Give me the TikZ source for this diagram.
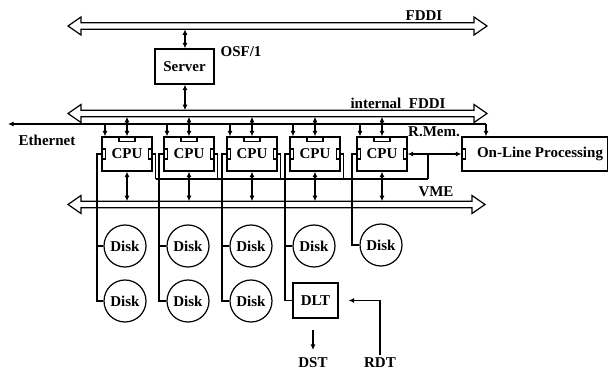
\documentclass[tikz,border=0pt]{standalone}
\usepackage{fontspec}
\setmainfont{Liberation Serif}
\usetikzlibrary{arrows.meta,calc}
\newcommand\mybus[3]{%
  \draw[bus] (#1,#3) -- (#1+13,#3-9) -- (#1+13,#3-3.3) -- (#2-13,#3-3.3) -- (#2-13,#3-9) -- (#2,#3)
    -- (#2-13,#3+9) -- (#2-13,#3+3.3) -- (#1+13,#3+3.3) -- (#1+13,#3+9) -- cycle;}
\begin{document}
\begin{tikzpicture}[x=1pt,y=-1pt,line width=1.2pt,
  lbl/.style={font=\bfseries\fontsize{15}{17}\selectfont,inner sep=0pt},
  box/.style={draw,line width=1.2pt,inner sep=0pt,lbl},
  cpubox/.style={box,minimum width=50pt,minimum height=34pt},
  disk/.style={box,circle,minimum size=42pt},
  tip/.style={-{Latex[length=5.5pt,width=5pt]}},
  dtip/.style={{Latex[length=5.5pt,width=5pt]}-{Latex[length=5.5pt,width=5pt]}},
  bus/.style={line width=1.2pt,line join=miter}]
\useasboundingbox (0,0) rectangle (608,371);
% buses
\mybus{68}{487}{26}
\mybus{68}{487}{113.5}
\mybus{68}{485}{204.5}
\node[lbl] (fddi) at (424,16) {FDDI};
\node[lbl] (ifddi) at (398,103) {internal\ \ FDDI};
\node[lbl] (vme) at (436,192) {VME};
% server
\node[box,minimum width=59pt,minimum height=35pt] (server) at (184.5,66.5) {Server};
\node[lbl] (osf) at (241,52) {OSF/1};
\coordinate (fddiS) at (185,29.3);
\coordinate (ifddiS) at (185,110.2);
\draw[dtip] (fddiS) -- (fddiS |- server.north);
\draw[dtip] (ifddiS |- server.south) -- (ifddiS);
% ethernet
\node[lbl] (eth) at (47,140) {Ethernet};
\coordinate (ethL) at (8,124);
\coordinate (ethR) at (486,124);
\draw[tip] (ethR) -- (ethL);
% on-line processing
\node[box,minimum width=146pt,minimum height=34pt] (olp) at (535,154) {\hspace*{10pt}On-Line Processing};
\draw ($(olp.west)+(0,-5)$) rectangle ++(4,10);
\draw[tip] (ethR) -- (ethR |- olp.north);
\node[lbl] (rmem) at (434,132) {R.Mem.};
% CPUs
\coordinate (rm) at (428,179);
\foreach \i/\x in {1/127,2/189,3/252,4/315,5/382} {
  \node[cpubox] (cpu\i) at (\x,154) {\raisebox{-2pt}{CPU}};
  \draw ($(cpu\i.north)+(-8,0)$) rectangle ++(16,5);
  \draw ($(cpu\i.west)+(0,-5)$) rectangle ++(4,10);
  \draw ($(cpu\i.east)+(-4,-5)$) rectangle ++(4,10);
  \coordinate (eth\i) at (\x-22,124);
  \draw[tip] (eth\i) -- (eth\i |- cpu\i.north);
  \coordinate (ifd\i) at (\x,116.8);
  \draw[dtip] (ifd\i) -- (cpu\i.north);
  \coordinate (vme\i) at (\x,201.2);
  \draw[dtip] (cpu\i.south) -- (vme\i);
  \coordinate (s\i) at (\x-30,154);
}
\foreach \i in {1,2,3,4} {
  \coordinate (r\i) at ($(cpu\i.east)+(3,0)$);
  \draw (cpu\i.east) -- (r\i) -- (r\i |- rm);
}
\draw (r1 |- rm) -- (rm);
\coordinate (rmj) at (428,154);
\draw[dtip] (cpu5.east) -- (cpu5.east -| olp.west);
\draw (rmj) -- (rm);
% disks
\node[disk] (d1a) at (125,246) {Disk};
\node[disk] (d2a) at (188,246) {Disk};
\node[disk] (d3a) at (251,246) {Disk};
\node[disk] (d4a) at (314,246) {Disk};
\node[disk] (d5a) at (381,245) {Disk};
\node[disk] (d1b) at (125,301) {Disk};
\node[disk] (d2b) at (188,301) {Disk};
\node[disk] (d3b) at (251,301) {Disk};
\node[box,minimum width=45pt,minimum height=35pt] (dlt) at (315.5,300.5) {DLT};
\draw (cpu1.west) -- (s1) |- (d1b.west);
\draw (s1 |- d1a.west) -- (d1a.west);
\draw (cpu2.west) -- (s2) |- (d2b.west);
\draw (s2 |- d2a.west) -- (d2a.west);
\draw (cpu3.west) -- (s3) |- (d3b.west);
\draw (s3 |- d3a.west) -- (d3a.west);
\draw (cpu4.west) -- (s4) |- (dlt.west);
\draw (s4 |- d4a.west) -- (d4a.west);
\draw (cpu5.west) -- (s5) |- (d5a.west);
% DST / RDT
\node[lbl] (dst) at (313,363) {DST};
\node[lbl] (rdt) at (380,363) {RDT};
\coordinate (dsta) at (313,330);
\draw[tip] (dsta) -- (313,350);
\draw[tip,shorten <=2pt,shorten >=10pt] (rdt.north) |- (dlt.east);
\end{tikzpicture}
\end{document}
